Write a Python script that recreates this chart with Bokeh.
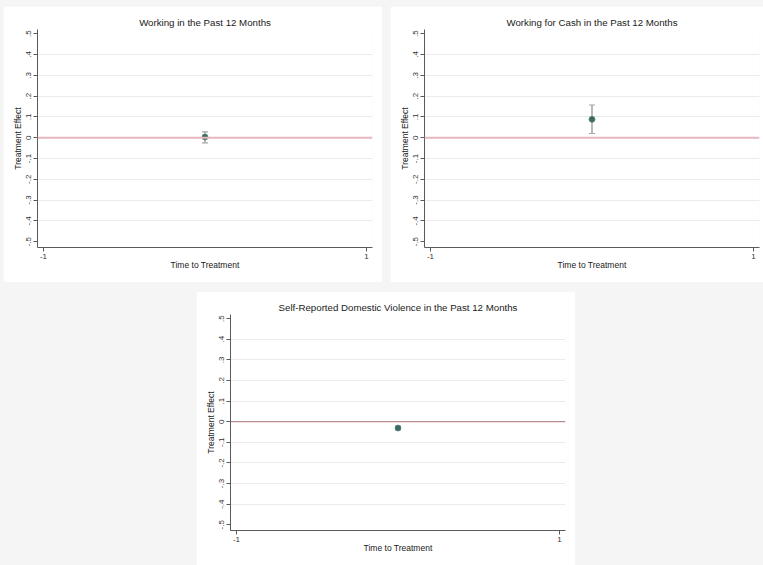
from bokeh.embed import file_html
from bokeh.layouts import column, row
from bokeh.models import (ColumnDataSource, FixedTicker, Range1d, Span,
                          TeeHead, Whisker)
from bokeh.plotting import figure
from bokeh.resources import INLINE

# Event-study estimates (one pre/post period, relative time 0)
titles = [
    "Working in the Past 12 Months",
    "Working for Cash in the Past 12 Months",
    "Self-Reported Domestic Violence in the Past 12 Months",
]
time_to_treatment = [0, 0, 0]
estimates = [0.003, 0.088, -0.031]
ci_lower = [-0.025, 0.020, -0.039]
ci_upper = [0.028, 0.157, -0.023]

y_ticks = [-0.5, -0.4, -0.3, -0.2, -0.1, 0.0, 0.1, 0.2, 0.3, 0.4, 0.5]
y_tick_labels = ["-.5", "-.4", "-.3", "-.2", "-.1", "0", ".1", ".2", ".3", ".4", ".5"]
x_ticks = [-1, 1]
x_tick_labels = ["-1", "1"]

FONT = "Liberation Sans"
AXIS_COLOR = "#5a5a5a"
MARKER_FILL = "#3b6b65"
MARKER_LINE = "#587f7a"
CI_COLOR = "#a3a3a3"


def make_panel(i, width, height, right_border, zero_color, zero_width):
    p = figure(
        width=width, height=height,
        x_range=Range1d(-1.037, 1.037), y_range=Range1d(-0.528, 0.52),
        output_backend="svg", toolbar_location=None,
        min_border_left=34, min_border_right=right_border,
        min_border_top=23, min_border_bottom=35,
        background_fill_color="white", border_fill_color="white",
        outline_line_color=None,
    )
    p.title.text = titles[i]
    p.title.align = "center"
    p.title.text_font = FONT
    p.title.text_font_size = "9.7px"
    p.title.text_font_style = "normal"
    p.title.text_color = "#1a1a1a"
    p.title.standoff = 3

    # axes
    for ax in (p.xaxis[0], p.yaxis[0]):
        ax.axis_line_color = AXIS_COLOR
        ax.major_tick_line_color = AXIS_COLOR
        ax.minor_tick_line_color = None
        ax.major_tick_out = 4
        ax.major_tick_in = 0
        ax.major_label_text_font = FONT
        ax.major_label_text_font_size = "8px"
        ax.major_label_text_color = "#333333"
        ax.axis_label_text_font = FONT
        ax.axis_label_text_font_size = "8.5px"
        ax.axis_label_text_font_style = "normal"
        ax.axis_label_text_color = "#1a1a1a"

    p.yaxis.ticker = FixedTicker(ticks=y_ticks)
    p.yaxis.major_label_overrides = dict(zip(y_ticks, y_tick_labels))
    p.yaxis.major_label_orientation = "vertical"
    p.yaxis.major_label_standoff = 2
    p.yaxis.axis_label = "Treatment Effect"
    p.yaxis.axis_label_standoff = 1

    p.xaxis.ticker = FixedTicker(ticks=x_ticks)
    p.xaxis.major_label_overrides = dict(zip(x_ticks, x_tick_labels))
    p.xaxis.major_label_standoff = 2
    p.xaxis.axis_label = "Time to Treatment"
    p.xaxis.axis_label_standoff = -2

    # horizontal grid only, inner ticks
    p.xgrid.grid_line_color = None
    p.ygrid.ticker = FixedTicker(ticks=[t for t in y_ticks if abs(t) < 0.45 and t != 0])
    p.ygrid.grid_line_color = "#ebebeb"
    p.ygrid.grid_line_width = 1

    p.add_layout(Span(location=0, dimension="width", line_color=zero_color,
                      line_width=zero_width))

    src = ColumnDataSource(dict(
        x=[time_to_treatment[i]], est=[estimates[i]],
        lo=[ci_lower[i]], hi=[ci_upper[i]],
    ))
    p.add_layout(Whisker(
        base="x", lower="lo", upper="hi", source=src,
        line_color=CI_COLOR, line_width=1.5,
        lower_head=TeeHead(size=6, line_color=CI_COLOR, line_width=1.2),
        upper_head=TeeHead(size=6, line_color=CI_COLOR, line_width=1.2),
    ))
    p.scatter("x", "est", source=src, size=6, marker="circle",
              fill_color=MARKER_FILL, line_color=MARKER_LINE, line_width=0.6)
    return p


p1 = make_panel(0, 379, 276, 10, "#e7b6be", 2)
p2 = make_panel(1, 373, 276, 4, "#e7b6be", 2)
p3 = make_panel(2, 379, 274, 10, "#b98a90", 1.2)

p1.margin = (6, 0, 0, 3)
p2.margin = (6, 0, 0, 8)
p3.margin = (9, 0, 0, 196)

p = column(row(p1, p2), row(p3), width=763, height=565,
           styles={"background-color": "#f5f5f5"})

open("out.html", "w").write(file_html(p, INLINE))
